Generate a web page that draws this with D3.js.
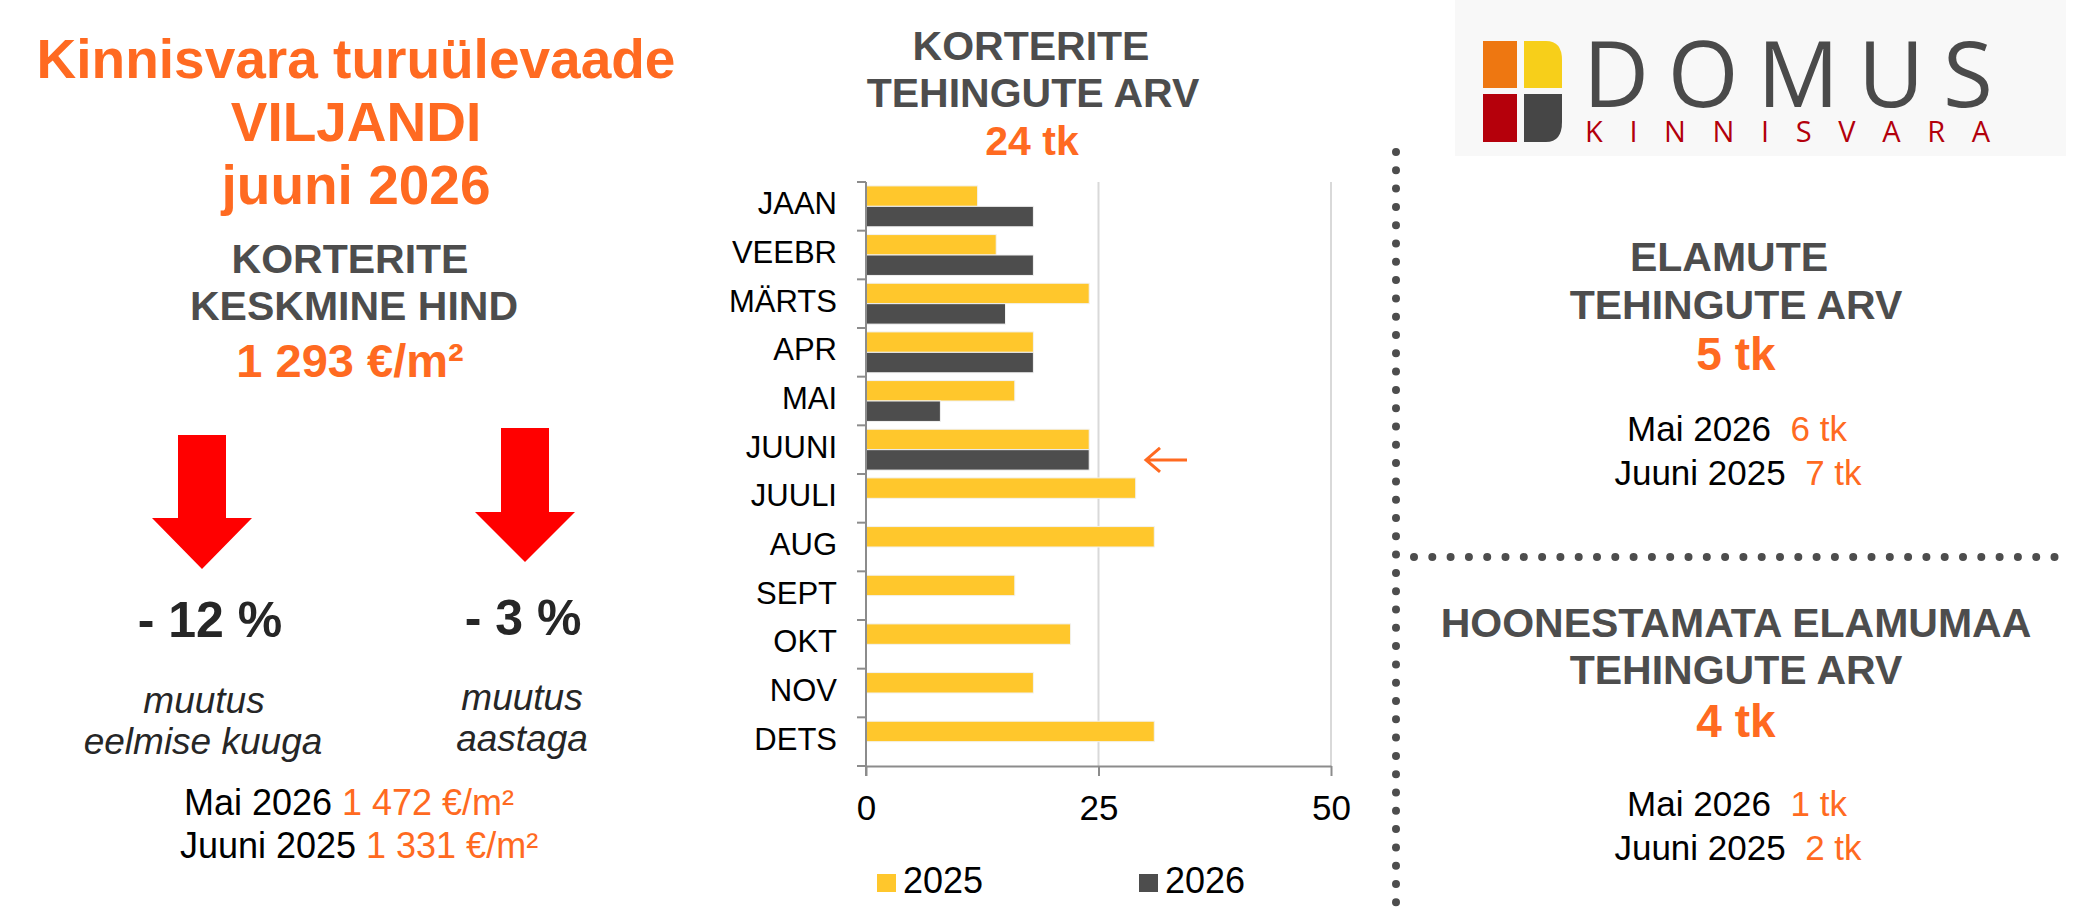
<!DOCTYPE html>
<html>
<head>
<meta charset="utf-8">
<script src="https://cdn.jsdelivr.net/npm/d3@7"></script>
<style>
  body { margin: 0; background: #fff; }
  svg text { font-family: "Liberation Sans", Arial, sans-serif; white-space: pre; }
  .axis path, .axis line { stroke: #8c8c8c; stroke-width: 2px; }
  .axis text { font-family: "Liberation Sans", Arial, sans-serif; fill: #000; }
</style>
</head>
<body>
<svg id="chart" width="2076" height="921"></svg>
<script>
// chart data
const months = ["JAAN", "VEEBR", "MÄRTS", "APR", "MAI", "JUUNI", "JUULI", "AUG", "SEPT", "OKT", "NOV", "DETS"]
const deals2025 = [12, 14, 24, 18, 16, 24, 29, 31, 16, 22, 18, 31]
const deals2026 = [18, 18, 15, 18, 8, 24]
const seriesNames = ["2025", "2026"]
const xTicks = [0, 25, 50]

// headline figures
const titleLines = ["Kinnisvara turuülevaade", "VILJANDI", "juuni 2026"]
const avgPrice = "1 293 €/m²"
const priceChanges = ["- 12 %", "- 3 %"]
const changeLabels = [["muutus", "eelmise kuuga"], ["muutus", "aastaga"]]
const priceCompare = [["Mai 2026 ", "1 472 €/m²"], ["Juuni 2025 ", "1 331 €/m²"]]
const aptDeals = "24 tk"
const houseDeals = "5 tk"
const houseCompare = [["Mai 2026  ", "6 tk"], ["Juuni 2025  ", "7 tk"]]
const landDeals = "4 tk"
const landCompare = [["Mai 2026  ", "1 tk"], ["Juuni 2025  ", "2 tk"]]

const ORANGE = "#ff6a21", GREY = "#4d4d4d", YELLOW = "#ffc72c", DARK = "#4d4d4d"

let svg = d3.select("#chart")

function label(x, y, txt, size, color, opts = {}) {
    return svg.append("text")
        .attr("x", x).attr("y", y)
        .attr("text-anchor", "middle")
        .attr("font-size", size)
        .attr("font-weight", opts.weight || "normal")
        .attr("font-style", opts.style || "normal")
        .attr("fill", color)
        .text(txt)
}

function twoTone(x, y, parts, size) {
    let t = svg.append("text").attr("x", x).attr("y", y)
        .attr("text-anchor", "middle").attr("font-size", size)
    t.append("tspan").attr("fill", "#000").text(parts[0])
    t.append("tspan").attr("fill", ORANGE).text(parts[1])
}

// ---- left column
let titleY = [78, 141, 204]
titleLines.forEach((s, i) => label(356, titleY[i], s, 55, ORANGE, {weight: "bold"}))
label(350, 273, "KORTERITE", 41, GREY, {weight: "bold"})
label(354, 320, "KESKMINE HIND", 41, GREY, {weight: "bold"})
label(350, 377, avgPrice, 47, ORANGE, {weight: "bold"})

// down arrows
function downArrow(cx, y0, headY, tipY, shaftW, headW) {
    let pts = [[cx - shaftW / 2, y0], [cx + shaftW / 2, y0], [cx + shaftW / 2, headY],
               [cx + headW / 2, headY], [cx, tipY], [cx - headW / 2, headY], [cx - shaftW / 2, headY]]
    svg.append("polygon").attr("points", pts.map(p => p.join(",")).join(" ")).attr("fill", "#ff0000")
}
downArrow(202, 435, 518, 569, 48, 100)
downArrow(525, 428, 512, 562, 48, 100)

label(210, 637, priceChanges[0], 50, "#262626", {weight: "bold"})
label(523, 635, priceChanges[1], 50, "#262626", {weight: "bold"})
label(204, 713, changeLabels[0][0], 37, "#262626", {style: "italic"})
label(203, 754, changeLabels[0][1], 37, "#262626", {style: "italic"})
label(522, 710, changeLabels[1][0], 37, "#262626", {style: "italic"})
label(522, 751, changeLabels[1][1], 37, "#262626", {style: "italic"})
twoTone(349, 815, priceCompare[0], 36)
twoTone(359, 858, priceCompare[1], 36)

// ---- middle: bar chart
label(1031, 60, "KORTERITE", 41, GREY, {weight: "bold"})
label(1033, 107, "TEHINGUTE ARV", 41, GREY, {weight: "bold"})
label(1032, 155, aptDeals, 41, ORANGE, {weight: "bold"})

let plotL = 866, plotR = 1331, plotT = 182, plotB = 766
let xScale = d3.scaleLinear().domain([0, 50]).range([plotL, plotR])
let yScale = d3.scaleBand().domain(months).range([plotT, plotB]).paddingInner(0.16).paddingOuter(0.08)
let sub = d3.scaleBand().domain(seriesNames).range([0, yScale.bandwidth()])
let colors = d3.scaleOrdinal().domain(seriesNames).range([YELLOW, DARK])
let edge = d3.scaleLinear().domain([0, months.length]).range([plotT, plotB])

// gridlines
svg.append("g").selectAll("line").data(xTicks.slice(1)).enter().append("line")
    .attr("x1", d => xScale(d)).attr("x2", d => xScale(d))
    .attr("y1", plotT).attr("y2", plotB)
    .attr("stroke", "#d9d9d9").attr("stroke-width", 2)

let rows = months.map((m, i) => ({m: m, v: [deals2025[i], deals2026[i]]}))
let g = svg.append("g")
rows.forEach(r => {
    seriesNames.forEach((s, j) => {
        if (r.v[j] == null) return
        g.append("rect")
            .attr("x", xScale(0))
            .attr("y", yScale(r.m) + sub(s))
            .attr("width", xScale(r.v[j]) - xScale(0))
            .attr("height", sub.bandwidth())
            .attr("fill", colors(s))
            .attr("stroke", "#f2f2f2").attr("stroke-width", 1)
    })
})

// y axis: line + boundary ticks
let yAx = svg.append("g").attr("class", "axis")
yAx.append("line").attr("x1", plotL).attr("x2", plotL).attr("y1", plotT).attr("y2", plotB + 10)
yAx.selectAll(".t").data(d3.range(months.length + 1)).enter().append("line")
    .attr("x1", plotL - 9).attr("x2", plotL).attr("y1", d => edge(d)).attr("y2", d => edge(d))
svg.append("g").attr("class", "axis")
    .attr("transform", `translate(${plotL},0)`)
    .call(d3.axisLeft(yScale).tickSize(0).tickPadding(29))
    .call(a => a.select(".domain").remove())
    .selectAll("text").attr("font-size", 31).attr("dy", "0.26em")

// x axis
svg.append("g").attr("class", "axis")
    .attr("transform", `translate(0,${plotB})`)
    .call(d3.axisBottom(xScale).tickValues(xTicks).tickSize(10).tickSizeOuter(0).tickPadding(19))
    .selectAll("text").attr("font-size", 35).attr("dy", "0.71em")

// pointer at the current month
let py = yScale("JUUNI") + sub("2026") + sub.bandwidth() / 2
svg.append("path")
    .attr("d", `M1187,${py} L1146,${py} M1160,${py - 12} L1146,${py} L1160,${py + 12}`)
    .attr("fill", "none").attr("stroke", ORANGE).attr("stroke-width", 3)

// legend
let legX = [877, 1139]
seriesNames.forEach((s, i) => {
    svg.append("rect").attr("x", legX[i]).attr("y", 874).attr("width", 19).attr("height", 18).attr("fill", colors(s))
    svg.append("text").attr("x", legX[i] + 26).attr("y", 893).attr("font-size", 36).attr("fill", "#000").text(s)
})

// ---- right column
svg.append("line").attr("x1", 1396).attr("x2", 1396).attr("y1", 152).attr("y2", 905)
    .attr("stroke", "#4d4d4d").attr("stroke-width", 8).attr("stroke-linecap", "round").attr("stroke-dasharray", "0 18.3")
svg.append("line").attr("x1", 1414).attr("x2", 2062).attr("y1", 557).attr("y2", 557)
    .attr("stroke", "#4d4d4d").attr("stroke-width", 8).attr("stroke-linecap", "round").attr("stroke-dasharray", "0 18.3")

label(1729, 271, "ELAMUTE", 41, GREY, {weight: "bold"})
label(1736, 319, "TEHINGUTE ARV", 41, GREY, {weight: "bold"})
label(1736, 370, houseDeals, 46, ORANGE, {weight: "bold"})
twoTone(1737, 441, houseCompare[0], 35)
twoTone(1738, 485, houseCompare[1], 35)

label(1736, 637, "HOONESTAMATA ELAMUMAA", 41, GREY, {weight: "bold"})
label(1736, 684, "TEHINGUTE ARV", 41, GREY, {weight: "bold"})
label(1736, 737, landDeals, 46, ORANGE, {weight: "bold"})
twoTone(1737, 816, landCompare[0], 35)
twoTone(1738, 860, landCompare[1], 35)

// ---- logo
let logo = svg.append("g")
logo.append("rect").attr("x", 1455).attr("y", 0).attr("width", 611).attr("height", 156).attr("fill", "#f8f8f8")
logo.append("rect").attr("x", 1483).attr("y", 41).attr("width", 34).attr("height", 47).attr("fill", "#ee7711")
logo.append("path").attr("d", "M1524,41 L1546,41 Q1562,41 1562,60 L1562,88 L1524,88 Z").attr("fill", "#f7cf1a")
logo.append("rect").attr("x", 1483).attr("y", 94).attr("width", 34).attr("height", 48).attr("fill", "#b5000b")
logo.append("path").attr("d", "M1524,94 L1562,94 L1562,122 Q1562,142 1546,142 L1524,142 Z").attr("fill", "#464646")
logo.append("text").attr("x", 1583).attr("y", 107).attr("font-size", 91)
    .attr("textLength", 410).attr("lengthAdjust", "spacing")
    .style("font-family", "'Open Sans', sans-serif").attr("fill", "#4a4a4a").text("DOMUS")
logo.append("text").attr("x", 1585).attr("y", 142).attr("font-size", 29)
    .attr("textLength", 405).attr("lengthAdjust", "spacing")
    .style("font-family", "'Open Sans', sans-serif").attr("fill", "#b3000c").text("KINNISVARA")
</script>
</body>
</html>
